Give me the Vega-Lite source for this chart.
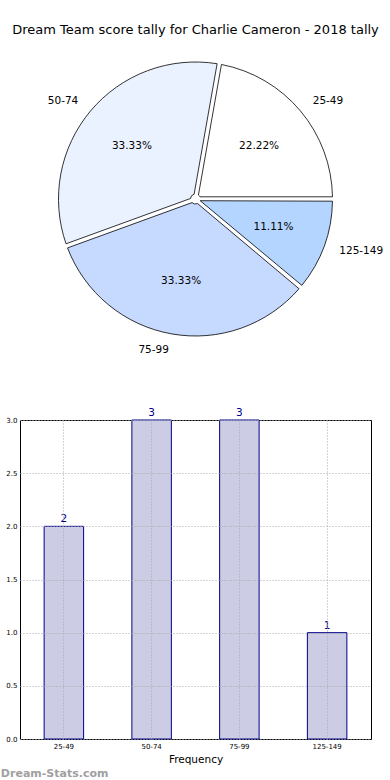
{
  "$schema": "https://vega.github.io/schema/vega-lite/v6.json",
  "padding": {"left": 0, "top": 24, "right": 0, "bottom": 0},
  "bounds": "flush",
  "spacing": 76,
  "config": {"font": "DejaVu Sans", "view": {"stroke": null}},
  "data": {
    "values": [
      {"range": "25-49", "count": 2, "pct": "22.22%"},
      {"range": "50-74", "count": 3, "pct": "33.33%"},
      {"range": "75-99", "count": 3, "pct": "33.33%"},
      {"range": "125-149", "count": 1, "pct": "11.11%"}
    ]
  },
  "vconcat": [
    {
      "width": 351,
      "height": 290,
      "title": {"text": "Dream Team score tally for Charlie Cameron - 2018 tally", "fontSize": 13, "fontWeight": "normal", "color": "black", "offset": 17, "anchor": "middle"},
      "encoding": {
        "theta": {"field": "count", "type": "quantitative", "stack": true, "scale": {"range": [2.2689, -4.0143]}},
        "order": {"field": "range", "type": "ordinal", "sort": "ascending"}
      },
      "layer": [
        {
          "mark": {"type": "arc", "outerRadius": 137, "innerRadius": 5, "stroke": "black", "strokeWidth": 0.8, "padAngle": 0.032},
          "encoding": {
            "color": {"field": "range", "type": "nominal", "legend": null,
              "scale": {"domain": ["25-49", "50-74", "75-99", "125-149"], "range": ["#ffffff", "#ebf2ff", "#c6d9ff", "#b4d5ff"]}}
          }
        },
        {
          "mark": {"type": "text", "radius": 83, "fontSize": 10.5, "color": "black", "baseline": "middle", "align": "center"},
          "encoding": {"text": {"field": "pct"}}
        },
        {
          "mark": {"type": "text", "radius": 153, "fontSize": 10.5, "color": "black", "baseline": "middle", "align": "left"},
          "encoding": {"text": {"condition": {"test": "datum.range == '25-49' || datum.range == '125-149'", "field": "range"}, "value": ""}}
        },
        {
          "mark": {"type": "text", "radius": 153, "fontSize": 10.5, "color": "black", "baseline": "middle", "align": "right"},
          "encoding": {"text": {"condition": {"test": "datum.range == '50-74' || datum.range == '75-99'", "field": "range"}, "value": ""}}
        }
      ]
    },
    {
      "width": 351,
      "height": 319,
      "view": {"stroke": "black", "strokeWidth": 1},
      "title": {"text": "Dream-Stats.com", "orient": "bottom", "anchor": "start", "frame": "bounds", "fontSize": 11, "fontWeight": "bold", "color": "#a0a0a0", "offset": 3, "dx": -5},
      "encoding": {
        "x": {"field": "range", "type": "nominal", "sort": ["25-49", "50-74", "75-99", "125-149"],
          "scale": {"paddingInner": 0.55, "paddingOuter": 0.275},
          "axis": {"title": "Frequency", "titleFontSize": 10.5, "titleFontWeight": "normal", "titlePadding": 5, "titleColor": "black",
            "labelAngle": 0, "labelFontSize": 7, "labelColor": "black", "labelPadding": 3, "ticks": false, "domain": false,
            "grid": true, "bandPosition": 0.5, "gridDash": [1, 2], "gridColor": "#a8a8a8", "zindex": 1}},
        "y": {"field": "count", "type": "quantitative", "scale": {"domain": [0, 3], "nice": false},
          "axis": {"title": null, "values": [0, 0.5, 1, 1.5, 2, 2.5, 3], "format": ".1f", "labelFontSize": 7, "labelColor": "black",
            "labelPadding": 3, "ticks": false, "domain": false, "grid": true, "gridDash": [1, 2], "gridColor": "#a8a8a8", "zindex": 1}}
      },
      "layer": [
        {"mark": {"type": "bar", "fill": "#ccccE5", "stroke": "#00008b", "strokeWidth": 1}},
        {"mark": {"type": "text", "baseline": "bottom", "dy": -2, "fontSize": 10.5, "color": "#00008b"},
          "encoding": {"text": {"field": "count", "type": "quantitative"}}}
      ]
    }
  ]
}
